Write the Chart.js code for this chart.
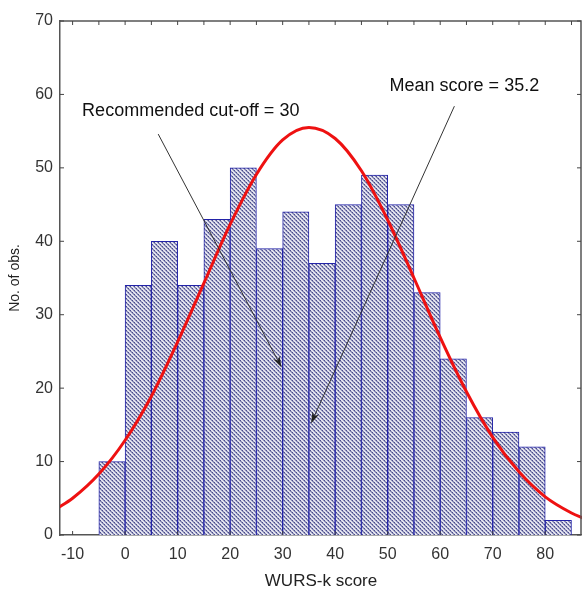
<!DOCTYPE html>
<html>
<head>
<meta charset="utf-8">
<script src="https://cdn.jsdelivr.net/npm/chart.js@4.4.1/dist/chart.umd.min.js"></script>
<style>
  html, body { margin: 0; padding: 0; background: #fff; }
  #wrap { width: 582px; height: 592px; }
</style>
</head>
<body>
<div id="wrap"><canvas id="histChart"></canvas></div>
<script>
// histogram bins (centres of 5-point bins) and counts
const binCenters = [-2.5, 2.5, 7.5, 12.5, 17.5, 22.5, 27.5, 32.5, 37.5, 42.5, 47.5, 52.5, 57.5, 62.5, 67.5, 72.5, 77.5, 82.5];
const counts = [10, 34, 40, 34, 43, 50, 39, 44, 37, 45, 49, 45, 33, 24, 16, 14, 12, 2];

// fitted normal curve
const curveX = [-13, -10, -5, 0, 5, 10, 15, 20, 25, 30, 35, 40, 45, 50, 55, 60, 65, 70, 75, 80, 85, 87.5];
const curveY = [3.6, 5.0, 8.3, 12.9, 18.9, 26.3, 34.3, 42.3, 49.1, 53.8, 55.5, 54.0, 49.6, 42.9, 35.0, 26.9, 19.5, 13.3, 8.6, 5.2, 3.0, 2.2];

// tick labels
const xTicks = [-10, 0, 10, 20, 30, 40, 50, 60, 70, 80];
const yTicks = [0, 10, 20, 30, 40, 50, 60, 70];
const topTicks = [-10, -5, 0, 5, 10, 15, 20, 25, 30, 35, 40, 45, 50, 55, 60, 65, 70, 75, 80, 85];

// annotations: text, text position, arrow from -> to (data units)
const noteTexts = ['Recommended cut-off = 30', 'Mean score = 35.2'];
const notePos = [[12.5, 57.7], [64.6, 61.1]];
const arrowFrom = [[6.3, 54.6], [62.7, 58.4]];
const arrowTo = [[29.8, 22.8], [35.4, 15.2]];

// hatched fill like the original
function makePattern() {
    const c = document.createElement('canvas');
    c.width = 4; c.height = 4;
    const g = c.getContext('2d');
    g.fillStyle = '#e2e2ee';
    g.fillRect(0, 0, 4, 4);
    g.fillStyle = '#8a8cb6';
    for (let i = 0; i < 4; i++) {
        g.fillRect(i, i % 4, 1, 1);
        g.fillRect(i, (i + 1) % 4, 1, 1);
    }
    g.fillStyle = '#4a4c8e';
    g.fillRect(0, 0, 1, 1);
    g.fillRect(2, 2, 1, 1);
    return g.createPattern(c, 'repeat');
}

const frameAndNotes = {
    id: 'frameAndNotes',
    afterDatasetsDraw(chart) {
        const {ctx, chartArea: {left, top, right, bottom}, scales: {x, y}} = chart;
        ctx.save();
        // frame
        ctx.strokeStyle = '#555';
        ctx.lineWidth = 1.5;
        ctx.beginPath();
        ctx.moveTo(left, top); ctx.lineTo(right - 1, top); ctx.lineTo(right - 1, bottom);
        ctx.stroke();
        ctx.lineWidth = 1;
        ctx.strokeStyle = '#444';
        ctx.beginPath();
        topTicks.forEach(v => {
            const px = x.getPixelForValue(v);
            ctx.moveTo(px, top); ctx.lineTo(px, top + 4);
        });
        xTicks.forEach(v => {
            const px = x.getPixelForValue(v);
            ctx.moveTo(px, bottom); ctx.lineTo(px, bottom - 4);
        });
        yTicks.forEach(v => {
            const py = y.getPixelForValue(v);
            ctx.moveTo(left, py); ctx.lineTo(left + 4, py);
            ctx.moveTo(right - 1, py); ctx.lineTo(right - 5, py);
        });
        ctx.stroke();

        // arrows
        ctx.strokeStyle = '#333';
        ctx.fillStyle = '#222';
        for (let i = 0; i < arrowFrom.length; i++) {
            const x0 = x.getPixelForValue(arrowFrom[i][0]);
            const y0 = y.getPixelForValue(arrowFrom[i][1]);
            const x1 = x.getPixelForValue(arrowTo[i][0]);
            const y1 = y.getPixelForValue(arrowTo[i][1]);
            const a = Math.atan2(y1 - y0, x1 - x0);
            ctx.beginPath();
            ctx.moveTo(x0, y0);
            ctx.lineTo(x1 - 8 * Math.cos(a), y1 - 8 * Math.sin(a));
            ctx.stroke();
            ctx.beginPath();
            ctx.moveTo(x1, y1);
            ctx.lineTo(x1 - 12 * Math.cos(a - 0.3), y1 - 12 * Math.sin(a - 0.3));
            ctx.lineTo(x1 - 8 * Math.cos(a), y1 - 8 * Math.sin(a));
            ctx.lineTo(x1 - 12 * Math.cos(a + 0.3), y1 - 12 * Math.sin(a + 0.3));
            ctx.closePath();
            ctx.fill();
        }

        // note texts
        ctx.font = '18px "Liberation Sans", Arial, sans-serif';
        ctx.fillStyle = '#111';
        ctx.textAlign = 'center';
        ctx.textBaseline = 'middle';
        for (let i = 0; i < noteTexts.length; i++) {
            ctx.fillText(noteTexts[i], x.getPixelForValue(notePos[i][0]), y.getPixelForValue(notePos[i][1]));
        }
        ctx.restore();
    }
};

const ctx = document.getElementById('histChart').getContext('2d');
new Chart(ctx, {
    type: 'bar',
    data: {
        datasets: [{
            type: 'line',
            label: 'Normal fit',
            data: curveX.map((v, i) => ({x: v, y: curveY[i]})),
            borderColor: '#ee1111',
            borderWidth: 3,
            pointRadius: 0,
            tension: 0.4,
            cubicInterpolationMode: 'monotone',
            order: 0
        }, {
            label: 'No. of obs.',
            data: binCenters.map((v, i) => ({x: v, y: counts[i]})),
            backgroundColor: makePattern(),
            borderColor: '#2323a8',
            borderWidth: 1,
            borderSkipped: 'bottom',
            barPercentage: 1,
            categoryPercentage: 1,
            order: 1
        }]
    },
    options: {
        responsive: true,
        maintainAspectRatio: false,
        animation: false,
        layout: { padding: { top: 21, right: 0, left: 0, bottom: 0 } },
        plugins: {
            legend: { display: false },
            tooltip: { enabled: false }
        },
        scales: {
            x: {
                type: 'linear',
                offset: false,
                min: -12.4,
                max: 87,
                grid: { display: false, drawTicks: false },
                border: { display: true, color: '#555', width: 1.5 },
                afterBuildTicks: s => { s.ticks = xTicks.map(v => ({value: v})); },
                afterFit: s => { s.height = 57; },
                ticks: {
                    padding: 10,
                    color: '#333',
                    font: { family: '"Liberation Sans", Arial, sans-serif', size: 16 }
                },
                title: {
                    display: true,
                    text: 'WURS-k score',
                    color: '#222',
                    padding: { top: 5, bottom: 0 },
                    font: { family: '"Liberation Sans", Arial, sans-serif', size: 17 }
                }
            },
            y: {
                min: 0,
                max: 70,
                grid: { display: false, drawTicks: false },
                border: { display: true, color: '#555', width: 1.5 },
                afterBuildTicks: s => { s.ticks = yTicks.map(v => ({value: v})); },
                afterFit: s => { s.width = 60; },
                ticks: {
                    padding: 7,
                    color: '#333',
                    font: { family: '"Liberation Sans", Arial, sans-serif', size: 16 }
                },
                title: {
                    display: true,
                    text: 'No. of obs.',
                    color: '#222',
                    padding: { top: 7, bottom: 4 },
                    font: { family: '"Liberation Sans", Arial, sans-serif', size: 14 }
                }
            }
        }
    },
    plugins: [frameAndNotes]
});
</script>
</body>
</html>
